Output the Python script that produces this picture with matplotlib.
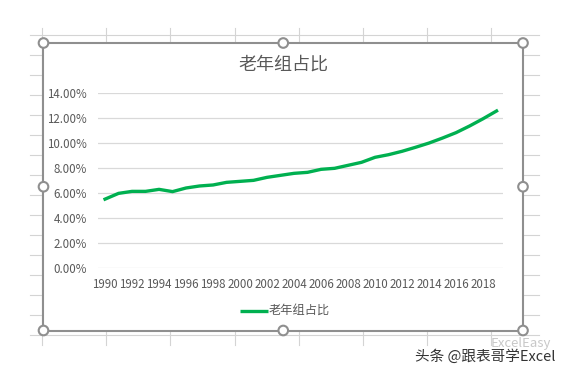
import numpy as np
import matplotlib
matplotlib.use("Agg")
import matplotlib.pyplot as plt
from matplotlib.patches import Rectangle, Circle
from matplotlib.ticker import PercentFormatter

plt.rcParams['font.family'] = ['Noto Sans CJK SC', 'DejaVu Sans']

# data (percent of population aged 65+)
years = list(range(1990, 2020))
share = [5.50, 5.96, 6.12, 6.12, 6.28, 6.10, 6.39, 6.55, 6.63, 6.84,
         6.92, 7.00, 7.24, 7.40, 7.56, 7.64, 7.88, 7.96, 8.20, 8.44,
         8.84, 9.05, 9.32, 9.64, 9.98, 10.38, 10.81, 11.34, 11.92, 12.54]
tick_years = years[::2]
title = "老年组占比"
watermark = "头条 @跟表哥学Excel"

W, H = 569, 375
fig = plt.figure(figsize=(W / 100, H / 100), dpi=100)

# spreadsheet background, pixel coords
bg = fig.add_axes([0, 0, 1, 1])
bg.set_xlim(0, W)
bg.set_ylim(H, 0)
bg.axis('off')
cell = '#D4D4D4'
for k in range(16):
    y = 35 + 20 * k
    bg.plot([30, 539], [y, y], color=cell, lw=0.8, zorder=1)
for k in range(8):
    x = 42 + 64.2 * k
    bg.plot([x, x], [28, 345], color=cell, lw=0.8, zorder=1)

# chart box + selection handles
x0, x1, y0, y1 = 43.5, 523, 43, 330.5
bg.add_patch(Rectangle((x0, y0), x1 - x0, y1 - y0, facecolor='white',
                       edgecolor='#8F8F8F', lw=1.5, zorder=2))
for hx in (x0, (x0 + x1) / 2, x1):
    for hy in (y0, (y0 + y1) / 2, y1):
        if hx == (x0 + x1) / 2 and hy == (y0 + y1) / 2:
            continue
        bg.add_patch(Circle((hx, hy), 4.8, facecolor='white',
                            edgecolor='#8F8F8F', lw=1.5, zorder=3))

bg.text(283, 65, title, ha='center', va='center', fontsize=13,
        color='#595959', zorder=4)

# legend
bg.plot([240, 268], [310.5, 310.5], color='#00B050', lw=2.4,
        solid_capstyle='butt', zorder=4)
bg.text(269, 310.5, title, ha='left', va='center', fontsize=8.8,
        color='#595959', zorder=4)

# watermark
bg.text(521, 344, "ExcelEasy", ha='center', va='center', fontsize=9.5,
        color='#C8C8C8', zorder=4)
bg.text(485, 357, watermark, ha='center', va='center', fontsize=10.5,
        color='#333333', zorder=5)

# plot area
ax = fig.add_axes([98.3 / W, 1 - 268 / H, (503.3 - 98.3) / W, (268 - 92.7) / H])
ax.set_zorder(5)
ax.patch.set_alpha(0)
xpos = np.arange(len(years))
ax.plot(xpos, share, color='#00B050', lw=2.4, solid_joinstyle='round',
        zorder=3)
ax.set_xlim(-0.5, len(years) - 0.5)
ax.set_ylim(0, 14)
ax.set_yticks(np.arange(0, 15, 2))
ax.yaxis.set_major_formatter(PercentFormatter(decimals=2))
ax.set_xticks(xpos[::2])
ax.set_xticklabels([str(y) for y in tick_years])
ax.grid(axis='y', color='#D9D9D9', lw=0.9)
ax.set_axisbelow(True)
for s in ax.spines.values():
    s.set_visible(False)
ax.tick_params(length=0, labelsize=8.3, labelcolor='#595959')
ax.tick_params(axis='y', pad=8)
ax.tick_params(axis='x', pad=7)

fig.savefig('out.png', dpi=100)
